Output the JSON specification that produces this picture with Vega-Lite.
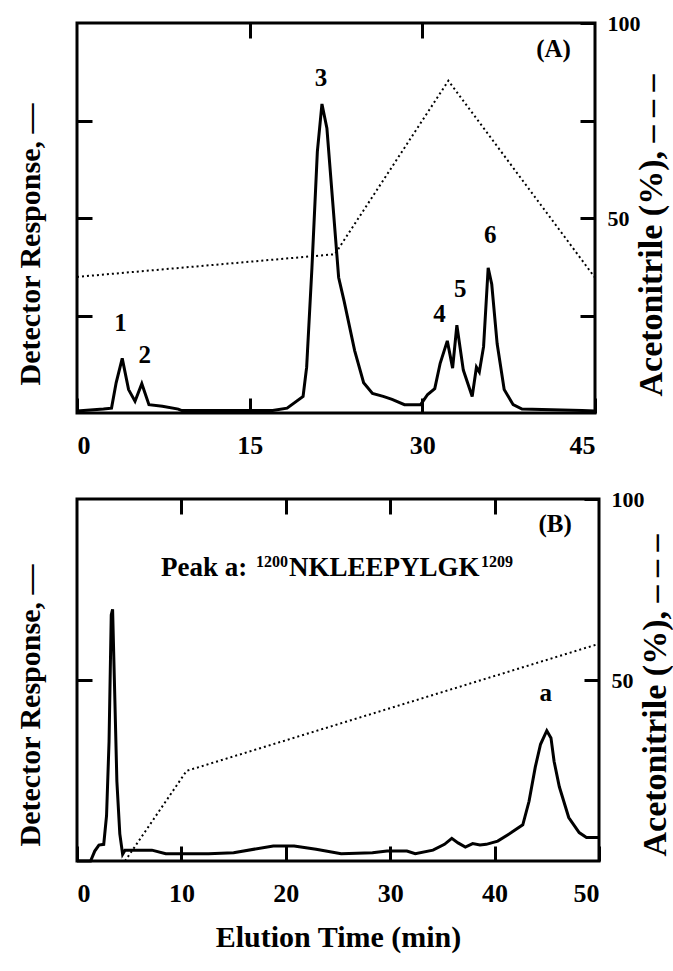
{
 "$schema": "https://vega.github.io/schema/vega-lite/v6.json",
 "padding": {"left": 14, "top": 10, "right": 0, "bottom": 0},
 "background": "white",
 "spacing": 26,
 "config": {
  "font": "Liberation Serif",
  "view": {"stroke": "black", "strokeWidth": 3},
  "axis": {"domain": false, "grid": false, "labelFont": "Liberation Serif", "labelFontWeight": "bold", "labelFontSize": 26, "labelColor": "black", "tickColor": "black", "tickWidth": 3, "tickSize": -15, "titleFont": "Liberation Serif", "titleFontWeight": "bold", "titleFontSize": 30, "titleColor": "black"}
 },
 "datasets": {
  "detA": [
   {"t": 0, "v": 0.02}, {"t": 2.3, "v": 0.04}, {"t": 3.0, "v": 0.05}, {"t": 3.4, "v": 0.31}, {"t": 3.93, "v": 0.56}, {"t": 4.48, "v": 0.24}, {"t": 5.04, "v": 0.12}, {"t": 5.63, "v": 0.3}, {"t": 6.25, "v": 0.085}, {"t": 7.42, "v": 0.07}, {"t": 8.8, "v": 0.04}, {"t": 9.1, "v": 0.025},
   {"t": 17.0, "v": 0.025}, {"t": 18.25, "v": 0.05}, {"t": 19.64, "v": 0.17}, {"t": 19.95, "v": 0.47}, {"t": 20.41, "v": 1.49}, {"t": 20.88, "v": 2.68}, {"t": 21.28, "v": 3.17}, {"t": 21.71, "v": 2.92}, {"t": 22.21, "v": 2.17}, {"t": 22.73, "v": 1.39}, {"t": 23.2, "v": 1.15}, {"t": 24.12, "v": 0.64}, {"t": 24.9, "v": 0.31}, {"t": 25.67, "v": 0.2}, {"t": 26.6, "v": 0.17}, {"t": 27.37, "v": 0.14}, {"t": 28.45, "v": 0.085}, {"t": 29.85, "v": 0.085}, {"t": 30.46, "v": 0.19}, {"t": 31.08, "v": 0.25}, {"t": 31.55, "v": 0.51}, {"t": 32.17, "v": 0.74}, {"t": 32.63, "v": 0.46}, {"t": 33.0, "v": 0.9}, {"t": 33.56, "v": 0.44}, {"t": 34.33, "v": 0.17}, {"t": 34.7, "v": 0.47}, {"t": 34.95, "v": 0.42}, {"t": 35.32, "v": 0.68}, {"t": 35.72, "v": 1.49}, {"t": 36.03, "v": 1.32}, {"t": 36.5, "v": 0.71}, {"t": 37.11, "v": 0.24}, {"t": 37.89, "v": 0.085}, {"t": 38.66, "v": 0.04}, {"t": 43.9, "v": 0.025}, {"t": 45, "v": 0.02}
  ],
  "gradA": [
   {"t": 0, "pct": 34.9}, {"t": 22.4, "pct": 40.7}, {"t": 32.26, "pct": 85.2}, {"t": 45, "pct": 34.7}
  ],
  "labA": [
   {"t": 3.77, "v": 0.92, "label": "1"}, {"t": 5.88, "v": 0.59, "label": "2"}, {"t": 21.2, "v": 3.44, "label": "3"}, {"t": 31.5, "v": 1.02, "label": "4"}, {"t": 33.3, "v": 1.27, "label": "5"}, {"t": 35.9, "v": 1.83, "label": "6"}, {"t": 41.4, "v": 3.73, "label": "(A)"}
  ],
  "detB": [
   {"t": 0, "v": 0}, {"t": 1.3, "v": 0}, {"t": 1.7, "v": 0.055}, {"t": 2.1, "v": 0.088}, {"t": 2.56, "v": 0.092}, {"t": 2.83, "v": 0.25}, {"t": 3.07, "v": 0.66}, {"t": 3.28, "v": 1.36}, {"t": 3.41, "v": 1.39}, {"t": 3.58, "v": 1.0}, {"t": 3.82, "v": 0.44}, {"t": 4.1, "v": 0.15}, {"t": 4.37, "v": 0.037}, {"t": 4.6, "v": 0.06}, {"t": 7.17, "v": 0.06}, {"t": 8.5, "v": 0.04}, {"t": 12.6, "v": 0.04}, {"t": 15.0, "v": 0.046}, {"t": 18.8, "v": 0.083}, {"t": 20.8, "v": 0.083}, {"t": 22.9, "v": 0.065}, {"t": 25.3, "v": 0.04}, {"t": 28.3, "v": 0.046}, {"t": 29.7, "v": 0.055}, {"t": 31.6, "v": 0.055}, {"t": 32.4, "v": 0.04}, {"t": 34.1, "v": 0.06}, {"t": 35.2, "v": 0.092}, {"t": 35.9, "v": 0.125}, {"t": 36.5, "v": 0.1}, {"t": 37.2, "v": 0.077}, {"t": 37.9, "v": 0.096}, {"t": 38.6, "v": 0.088}, {"t": 39.2, "v": 0.092}, {"t": 40.3, "v": 0.11}, {"t": 41.6, "v": 0.157}, {"t": 42.7, "v": 0.2}, {"t": 43.3, "v": 0.33}, {"t": 43.9, "v": 0.52}, {"t": 44.4, "v": 0.645}, {"t": 45.0, "v": 0.72}, {"t": 45.4, "v": 0.68}, {"t": 45.7, "v": 0.55}, {"t": 46.2, "v": 0.41}, {"t": 47.1, "v": 0.24}, {"t": 48.1, "v": 0.157}, {"t": 48.8, "v": 0.13}, {"t": 50, "v": 0.13}
  ],
  "gradB": [
   {"t": 4.6, "pct": 0}, {"t": 10.5, "pct": 24.9}, {"t": 50, "pct": 60}
  ],
  "labB": [
   {"t": 45.8, "v": 1.86, "label": "(B)"}, {"t": 44.9, "v": 0.93, "label": "a"}
  ],
  "peakMain": [
   {"t": 8.05, "v": 1.576, "label": "Peak a:"}, {"t": 20.31, "v": 1.576, "label": "NKLEEPYLGK"}
  ],
  "peakSup": [
   {"t": 17.15, "v": 1.626, "label": "1200"}, {"t": 38.7, "v": 1.626, "label": "1209"}
  ]
 },
 "vconcat": [
  {
   "width": 518, "height": 390,
   "layer": [
    {"data": {"name": "detA"}, "mark": {"type": "line", "color": "black", "strokeWidth": 3},
     "encoding": {
      "x": {"field": "t", "type": "quantitative", "scale": {"domain": [0, 45], "nice": false}, "axis": {"orient": "bottom", "values": [0, 15, 30, 45], "title": null, "labelPadding": 34}},
      "y": {"field": "v", "type": "quantitative", "scale": {"domain": [0, 4], "nice": false}, "axis": {"orient": "left", "values": [1, 2, 3], "labels": false, "title": "Detector Response, —", "titlePadding": 30, "titleY": 221}}
     }},
    {"data": {"name": "gradA"}, "mark": {"type": "line", "color": "black", "strokeWidth": 2, "strokeDash": [2, 3]},
     "encoding": {
      "x": {"field": "t", "type": "quantitative", "scale": {"domain": [0, 45], "nice": false}, "axis": {"orient": "top", "values": [15, 30], "labels": false, "title": null}},
      "y": {"field": "pct", "type": "quantitative", "scale": {"domain": [0, 100], "nice": false}, "axis": {"orient": "right", "values": [25, 50, 75, 100], "labelExpr": "datum.value == 50 || datum.value == 100 ? datum.label : ''", "labelFontSize": 22, "labelPadding": 27, "title": "Acetonitrile (%), – – –", "titleFontSize": 34, "titleAngle": 270, "titleBaseline": "top", "titlePadding": -6, "titleY": 212}}
     }},
    {"data": {"name": "labA"}, "mark": {"type": "text", "font": "Liberation Serif", "fontWeight": "bold", "fontSize": 25, "color": "black"},
     "encoding": {
      "x": {"field": "t", "type": "quantitative", "scale": {"domain": [0, 45], "nice": false}, "axis": null},
      "y": {"field": "v", "type": "quantitative", "scale": {"domain": [0, 4], "nice": false}, "axis": null},
      "text": {"field": "label"}
     }}
   ],
   "resolve": {"scale": {"y": "independent"}, "axis": {"x": "independent", "y": "independent"}}
  },
  {
   "width": 522, "height": 362,
   "layer": [
    {"data": {"name": "detB"}, "mark": {"type": "line", "color": "black", "strokeWidth": 3},
     "encoding": {
      "x": {"field": "t", "type": "quantitative", "scale": {"domain": [0, 50], "nice": false}, "axis": {"orient": "bottom", "values": [0, 10, 20, 30, 40, 50], "title": "Elution Time (min)", "labelPadding": 34, "titlePadding": 16}},
      "y": {"field": "v", "type": "quantitative", "scale": {"domain": [0, 2], "nice": false}, "axis": {"orient": "left", "values": [1], "labels": false, "title": "Detector Response, —", "titlePadding": 30, "titleY": 206}}
     }},
    {"data": {"name": "gradB"}, "mark": {"type": "line", "color": "black", "strokeWidth": 2, "strokeDash": [2, 3]},
     "encoding": {
      "x": {"field": "t", "type": "quantitative", "scale": {"domain": [0, 50], "nice": false}, "axis": {"orient": "top", "values": [10, 20, 30, 40], "labels": false, "title": null}},
      "y": {"field": "pct", "type": "quantitative", "scale": {"domain": [0, 100], "nice": false}, "axis": {"orient": "right", "values": [50, 100], "labelFontSize": 22, "labelPadding": 27, "title": "Acetonitrile (%), – – –", "titleFontSize": 34, "titleAngle": 270, "titleBaseline": "top", "titlePadding": -6, "titleY": 196}}
     }},
    {"data": {"name": "labB"}, "mark": {"type": "text", "font": "Liberation Serif", "fontWeight": "bold", "fontSize": 25, "color": "black"},
     "encoding": {
      "x": {"field": "t", "type": "quantitative", "scale": {"domain": [0, 50], "nice": false}, "axis": null},
      "y": {"field": "v", "type": "quantitative", "scale": {"domain": [0, 2], "nice": false}, "axis": null},
      "text": {"field": "label"}
     }},
    {"data": {"name": "peakMain"}, "mark": {"type": "text", "font": "Liberation Serif", "fontWeight": "bold", "fontSize": 27, "color": "black", "align": "left", "baseline": "alphabetic"},
     "encoding": {
      "x": {"field": "t", "type": "quantitative", "scale": {"domain": [0, 50], "nice": false}, "axis": null},
      "y": {"field": "v", "type": "quantitative", "scale": {"domain": [0, 2], "nice": false}, "axis": null},
      "text": {"field": "label"}
     }},
    {"data": {"name": "peakSup"}, "mark": {"type": "text", "font": "Liberation Serif", "fontWeight": "bold", "fontSize": 16, "color": "black", "align": "left", "baseline": "alphabetic"},
     "encoding": {
      "x": {"field": "t", "type": "quantitative", "scale": {"domain": [0, 50], "nice": false}, "axis": null},
      "y": {"field": "v", "type": "quantitative", "scale": {"domain": [0, 2], "nice": false}, "axis": null},
      "text": {"field": "label"}
     }}
   ],
   "resolve": {"scale": {"y": "independent"}, "axis": {"x": "independent", "y": "independent"}}
  }
 ]
}
